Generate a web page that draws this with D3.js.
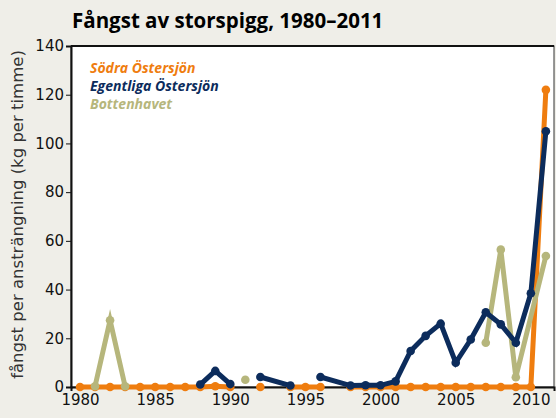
<!DOCTYPE html>
<html>
<meta charset="utf-8">
<style>
  body { margin: 0; padding: 0; background-color: #efeee8; }
  text { font-family: "DejaVu Sans", sans-serif; }
  .title { font-family: "Open Sans", sans-serif; font-size: 20.5px; font-weight: 700; }
  .legend { font-family: "Open Sans", sans-serif; font-size: 14px; font-weight: 700; font-style: italic; }
  .tick text { font-size: 15px; fill: #111; }
  .y-axis-title { font-size: 16.5px; fill: #333; text-anchor: middle; }
</style>
<body>
<script src="https://d3js.org/d3.v7.min.js"></script>
<div id="chart"></div>
<script>
// data: [year, value], null = gap in the line
var sodra = [[1980,0],[1981,0],[1982,0],[1983,0],[1984,0],[1985,0],[1986,0],[1987,0],[1988,0],[1989,0.3],[1990,0],
  [1991,null],[1992,0],[1993,null],[1994,0],[1995,0],[1996,0],[1997,null],
  [1998,0],[1999,0],[2000,0],[2001,0],[2002,0],[2003,0],[2004,0],[2005,0],[2006,0],[2007,0],[2008,0],[2009,0],[2010,0],[2011,122]];
var egentliga = [[1988,1.0],[1989,6.6],[1990,1.2],[1991,null],[1992,4.1],[1994,0.6],[1995,null],
  [1996,4.1],[1998,0.6],[1999,0.7],[2000,0.7],[2001,2.3],[2002,14.8],[2003,21],[2004,26],[2005,10],
  [2006,19.5],[2007,30.7],[2008,25.7],[2009,18.2],[2010,38.5],[2011,105]];
var bottenhavet = [[1981,0.3],[1982,27.4],[1983,0.3],[1984,null],[1991,3],[1992,null],
  [2007,18.2],[2008,56.4],[2009,4],[2011,53.8]];

var seriesNames = ["Södra Östersjön", "Egentliga Östersjön", "Bottenhavet"];
var seriesColors = ["#ef7d0f", "#0c2c5c", "#b6b67c"];
var yTicks = [0, 20, 40, 60, 80, 100, 120, 140];
var xTicks = [1980, 1985, 1990, 1995, 2000, 2005, 2010];

var W = 556, H = 418;
var margin = {top: 46, right: 2, bottom: 31, left: 71},
    width = W - margin.left - margin.right,
    height = H - margin.top - margin.bottom;

var svg = d3.select("#chart").append("svg")
    .attr("width", W).attr("height", H);

svg.append("text").attr("class", "title")
  .attr("x", 72).attr("y", 28)
  .text("Fångst av storspigg, 1980–2011");

var g = svg.append("g")
  .attr("transform", "translate(" + margin.left + "," + margin.top + ")");

var x = d3.scaleLinear().domain([1979.4, 2011.54]).range([0, width]);
var y = d3.scaleLinear().domain([0, 140]).range([height, 0]);

// white plot area with frame
g.append("rect")
  .attr("width", width).attr("height", height)
  .attr("fill", "#fff").attr("stroke", "#333").attr("stroke-width", 1);
g.append("line").attr("x1", 0).attr("x2", width).attr("y1", 0).attr("y2", 0)
  .attr("stroke", "#111").attr("stroke-width", 2);

// y axis
var yAxis = g.append("g")
  .call(d3.axisLeft(y).tickValues(yTicks).tickSize(5).tickPadding(2));
yAxis.select(".domain").attr("stroke", "#111").attr("stroke-width", 2);
yAxis.selectAll(".tick line").attr("stroke", "#111");

// x axis
var xAxis = g.append("g")
  .attr("transform", "translate(0," + height + ")")
  .call(d3.axisBottom(x).tickValues(xTicks).tickFormat(d3.format("d")).tickSize(4).tickPadding(3));
xAxis.select(".domain").attr("stroke", "#111").attr("stroke-width", 2);
xAxis.selectAll(".tick line").attr("stroke", "#111");

svg.append("text").attr("class", "y-axis-title")
  .attr("transform", "rotate(-90)")
  .attr("x", -(margin.top + height / 2) + 2)
  .attr("y", 23)
  .text("fångst per ansträngning (kg per timme)");

var line = d3.line()
  .defined(function(d) { return d[1] != null; })
  .x(function(d) { return x(d[0]); })
  .y(function(d) { return y(d[1]); });

var allSeries = [sodra, bottenhavet, egentliga];
var allColors = [seriesColors[0], seriesColors[2], seriesColors[1]];

allSeries.forEach(function(data, i) {
  g.append("path")
    .datum(data)
    .attr("d", line)
    .attr("fill", "none")
    .attr("stroke", allColors[i])
    .attr("stroke-width", 5)
    .attr("stroke-linejoin", "miter")
    .attr("stroke-miterlimit", 5);

  g.selectAll(".dot" + i)
    .data(data.filter(function(d) { return d[1] != null; }))
    .enter().append("circle")
      .attr("cx", function(d) { return x(d[0]); })
      .attr("cy", function(d) { return y(d[1]); })
      .attr("r", 4.3)
      .attr("fill", allColors[i]);
});

// legend
seriesNames.forEach(function(name, i) {
  svg.append("text").attr("class", "legend")
    .attr("x", 90).attr("y", 73 + i * 18)
    .attr("fill", seriesColors[i])
    .text(name);
});
</script>
</body>
</html>
